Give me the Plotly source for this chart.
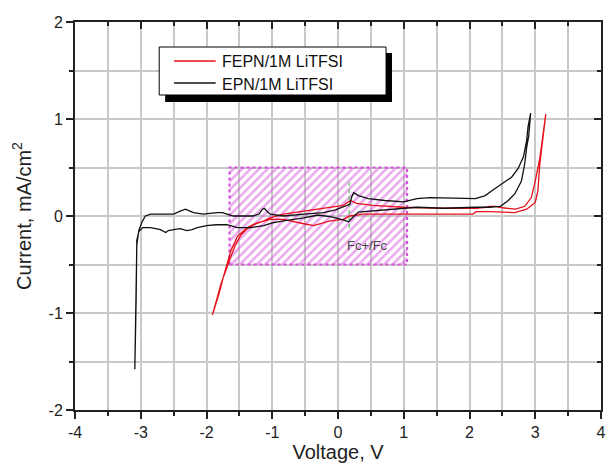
import plotly.graph_objects as go

# Cyclic voltammograms: EPN/1M LiTFSI (black) and FEPN/1M LiTFSI (red)
epn_v = [2.93, 2.91, 2.90, 2.87, 2.84, 2.79, 2.69, 2.59, 2.47, 2.30, 2.09, 1.60, 1.21, 1.01,
         0.61, 0.31, 0.23, 0.16, 0.08, -0.10, -0.30, -0.52, -0.83, -1.00, -1.13, -1.33,
         -1.53, -1.69, -1.85, -2.00, -2.14, -2.22, -2.30, -2.40, -2.50, -2.58, -2.62,
         -2.70, -2.85, -2.97, -3.03, -3.06, -3.07, -3.09,
         -3.08, -3.06, -3.03, -2.98, -2.93, -2.85, -2.70, -2.50, -2.40, -2.32, -2.25,
         -2.20, -2.05, -1.95, -1.84, -1.76, -1.68, -1.59, -1.48, -1.30, -1.20, -1.15,
         -1.12, -1.07, -1.03, -0.83, -0.52, -0.22, -0.05, 0.10, 0.18, 0.21, 0.24, 0.31,
         0.46, 0.71, 1.00, 1.20, 1.40, 2.09, 2.24, 2.34, 2.49, 2.64, 2.74, 2.82, 2.87,
         2.89, 2.93]
epn_i = [1.06, 0.92, 0.82, 0.71, 0.54, 0.36, 0.23, 0.16, 0.10, 0.09, 0.09, 0.08, 0.09, 0.08,
         0.06, 0.04, -0.01, -0.06, -0.04, -0.01, 0.01, -0.02, -0.05, -0.07, -0.10, -0.12,
         -0.12, -0.09, -0.09, -0.10, -0.12, -0.14, -0.15, -0.13, -0.14, -0.15, -0.17,
         -0.14, -0.12, -0.12, -0.16, -0.25, -0.85, -1.58,
         -0.85, -0.30, -0.15, -0.06, 0.00, 0.02, 0.02, 0.02, 0.05, 0.07, 0.05,
         0.035, 0.02, 0.03, 0.035, 0.035, 0.02, 0.00, 0.00, 0.00, 0.02, 0.07,
         0.08, 0.04, 0.02, 0.00, 0.02, 0.035, 0.06, 0.10, 0.12, 0.20, 0.24, 0.21,
         0.18, 0.16, 0.145, 0.18, 0.19, 0.18, 0.21, 0.26, 0.33, 0.40, 0.49, 0.61, 0.78,
         0.92, 1.06]

fepn_v = [3.16, 3.12, 3.07, 3.04, 3.00, 2.87, 2.69, 2.30, 2.10, 2.05, 1.50, 1.00, 0.38,
          0.18, 0.08, -0.12, -0.37, -0.52, -0.83, -1.03, -1.23, -1.38, -1.53, -1.63,
          -1.68, -1.74, -1.80, -1.86, -1.91,
          -1.84, -1.78, -1.71, -1.63, -1.56, -1.48, -1.38, -1.28, -1.13, -1.03, -0.83,
          -0.52, -0.22, 0.08, 0.19, 0.28, 0.53, 1.00, 1.60, 2.10, 2.25, 2.30, 2.40,
          2.50, 2.70, 2.84, 2.94, 3.00, 3.07, 3.12, 3.16]
fepn_i = [1.05, 0.82, 0.54, 0.26, 0.14, 0.07, 0.035, 0.045, 0.045, 0.02, 0.02, 0.02, 0.02,
          0.00, -0.035, -0.05, -0.10, -0.08, -0.035, -0.035, -0.07, -0.12, -0.21, -0.36,
          -0.47, -0.62, -0.78, -0.92, -1.02,
          -0.85, -0.70, -0.56, -0.42, -0.30, -0.20, -0.13, -0.09, -0.05, -0.02, 0.02,
          0.05, 0.08, 0.11, 0.16, 0.13, 0.11, 0.09, 0.08, 0.08, 0.09, 0.10, 0.10,
          0.085, 0.07, 0.10, 0.19, 0.36, 0.60, 0.85, 1.05]

# Fc+/Fc reference window and peak marker
window_v = [-1.65, 1.05, 1.05, -1.65, -1.65]
window_i = [-0.5, -0.5, 0.5, 0.5, -0.5]
marker_v = [0.17, 0.17]
marker_i = [0.35, -0.13]

x_ticks = [-4, -3, -2, -1, 0, 1, 2, 3, 4]
y_ticks = [-2, -1, 0, 1, 2]

legend_names = ["FEPN/1M LiTFSI", "EPN/1M LiTFSI"]
legend_colors = ["#e8101a", "#111111"]

MAG = "#d552dc"
FONT = "Arial, Liberation Sans, sans-serif"

fig = go.Figure()

fig.add_trace(go.Scatter(
    x=window_v, y=window_i, mode="lines", fill="toself",
    fillcolor="rgba(0,0,0,0)",
    fillpattern=dict(shape="/", fgcolor=MAG, bgcolor="rgba(0,0,0,0)", size=6, solidity=0.42),
    line=dict(color=MAG, width=2.2, dash="3px,3px"),
    showlegend=False, hoverinfo="skip"))

fig.add_trace(go.Scatter(x=marker_v, y=marker_i, mode="lines",
                         line=dict(color="#3cc43c", width=1, dash="4px,3px"),
                         showlegend=False))

fig.add_trace(go.Scatter(x=fepn_v, y=fepn_i, mode="lines", name=legend_names[0],
                         line=dict(color=legend_colors[0], width=1.3), showlegend=False))
fig.add_trace(go.Scatter(x=epn_v, y=epn_i, mode="lines", name=legend_names[1],
                         line=dict(color=legend_colors[1], width=1.3), showlegend=False))

# empty trace that anchors the mirrored top/right axes
fig.add_trace(go.Scatter(x=[None], y=[None], xaxis="x2", yaxis="y2", showlegend=False))

fig.add_annotation(x=0.45, y=-0.30, text="Fc+/Fc", showarrow=False,
                   font=dict(family=FONT, size=13, color="#444444"))

# plot-area pixel helpers for the boxed legend
L, R, T, B = 75, 606, 22, 410
def px(xp):
    return (xp - L) / (R - L)
def py(yp):
    return (B - yp) / (B - T)

shapes = [
    dict(type="rect", xref="paper", yref="paper", x0=px(166), x1=px(395), y0=py(102), y1=py(53),
         fillcolor="black", line=dict(width=0), layer="above"),
    dict(type="rect", xref="paper", yref="paper", x0=px(160), x1=px(389), y0=py(95), y1=py(47),
         fillcolor="white", line=dict(color="black", width=1), layer="above"),
]
for k, (name, col) in enumerate(zip(legend_names, legend_colors)):
    yy = 61 + 22 * k
    shapes.append(dict(type="line", xref="paper", yref="paper", x0=px(175), x1=px(217),
                       y0=py(yy), y1=py(yy), line=dict(color=col, width=1.5), layer="above"))
    fig.add_annotation(xref="paper", yref="paper", x=px(221), y=py(yy + 1), xanchor="left",
                       yanchor="middle", text=name, showarrow=False,
                       font=dict(family=FONT, size=16, color="#111111"))

axis_common = dict(showline=True, linecolor="#222222", linewidth=2, zeroline=False)
grid = dict(showgrid=True, gridcolor="#c9c9c9", gridwidth=1.5)

fig.update_layout(
    width=608, height=464,
    margin=dict(l=L, r=608 - R, t=T, b=464 - B),
    paper_bgcolor="white", plot_bgcolor="white",
    font=dict(family=FONT, size=16, color="#222222"),
    shapes=shapes,
    xaxis=dict(range=[-4, 4], tickvals=x_ticks, ticktext=[str(v) for v in x_ticks],
               ticks="outside", ticklen=7, tickwidth=2, tickcolor="#222222",
               ticklabeloverflow="allow", tickfont=dict(size=16),
               minor=dict(dtick=0.5, ticks="outside", ticklen=4, tickwidth=2,
                          tickcolor="#222222", **grid),
               title=dict(text="Voltage, V", font=dict(size=20), standoff=2),
               **grid, **axis_common),
    yaxis=dict(range=[-2, 2], tickvals=y_ticks, ticktext=[str(v) for v in y_ticks],
               ticks="outside", ticklen=7, tickwidth=2, tickcolor="#222222",
               tickfont=dict(size=16),
               minor=dict(dtick=0.5, ticks="outside", ticklen=4, tickwidth=2,
                          tickcolor="#222222", **grid),
               title=dict(text="Current, mA/cm<sup>2</sup>", font=dict(size=20), standoff=12),
               **grid, **axis_common),
    xaxis2=dict(range=[-4, 4], dtick=1, overlaying="x", side="top", ticks="inside", ticklen=7,
                tickwidth=2, tickcolor="#222222", showticklabels=False, showgrid=False,
                minor=dict(dtick=0.5, ticks="inside", ticklen=4, tickwidth=2, tickcolor="#222222"),
                **axis_common),
    yaxis2=dict(range=[-2, 2], dtick=1, overlaying="y", side="right", ticks="inside", ticklen=7,
                tickwidth=2, tickcolor="#222222", showticklabels=False, showgrid=False,
                minor=dict(dtick=0.5, ticks="inside", ticklen=4, tickwidth=2, tickcolor="#222222"),
                **axis_common),
)

fig.write_html("out.html")
